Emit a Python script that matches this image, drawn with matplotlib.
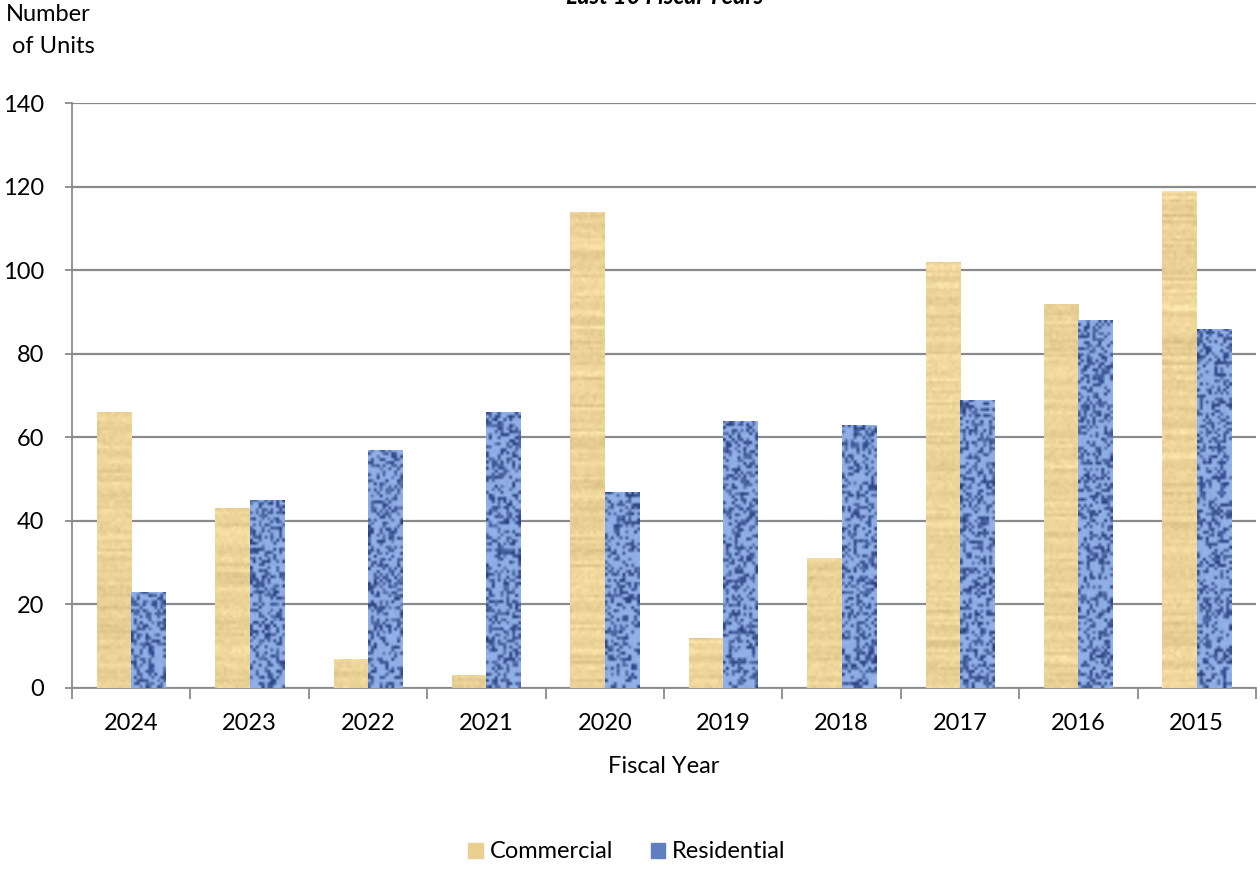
import matplotlib
matplotlib.use('Agg')
import matplotlib.pyplot as plt
from matplotlib.patches import Patch
import numpy as np

plt.rcParams['font.family'] = ['Lato', 'DejaVu Sans']
plt.rcParams['font.size'] = 17

years = ['2024', '2023', '2022', '2021', '2020', '2019', '2018', '2017', '2016', '2015']
commercial = [66, 43, 7, 3, 114, 12, 31, 102, 92, 119]
residential = [23, 45, 57, 66, 47, 64, 63, 69, 88, 86]

rng = np.random.default_rng(7)


def paper(rows, cols):
    # beige, slightly streaky fill
    base = np.array([236, 212, 152]) / 255.0
    streak = rng.normal(0, 0.025, (rows, 1))
    speck = rng.normal(0, 0.018, (rows, cols))
    img = base[None, None, :] + (streak + speck)[:, :, None]
    return np.clip(img, 0, 1)


def denim(rows, cols):
    # blue woven fill
    light = np.array([150, 180, 235]) / 255.0
    dark = np.array([35, 60, 125]) / 255.0
    t = rng.random((rows, cols))
    t = np.where(t > 0.4, 0.85 + 0.15 * t, t * 1.2)
    img = dark[None, None, :] + (light - dark)[None, None, :] * t[:, :, None]
    return np.clip(img, 0, 1)


fig = plt.figure(figsize=(12.6, 8.69), dpi=100)
ax = fig.add_axes([72 / 1260, 181 / 869, 1184 / 1260, 585 / 869])

x = np.arange(len(years))
w = 0.29
bars_c = ax.bar(x - w / 2, commercial, w, color='#ecd498', zorder=2)
bars_r = ax.bar(x + w / 2, residential, w, color='#5f7fc0', zorder=2)

for bars, maker in ((bars_c, paper), (bars_r, denim)):
    for b in bars:
        x0, h = b.get_x(), b.get_height()
        rows = max(int(h * 4.18 / 3), 1)
        im = ax.imshow(maker(rows, 12), extent=(x0, x0 + w, 0, h),
                       aspect='auto', interpolation='bilinear', zorder=3,
                       origin='lower')
        im.set_clip_path(b)

ax.set_xlim(-0.5, 9.5)
ax.set_ylim(0, 140)
ax.set_yticks(range(0, 141, 20))
ax.yaxis.grid(True, color='#8a8a8a', linewidth=1.6, zorder=0)
ax.set_axisbelow(True)

ax.set_xticks(x)
ax.set_xticklabels(years)
ax.set_xticks(np.arange(-0.5, 10, 1), minor=True)
ax.tick_params(axis='x', which='major', length=0, pad=18)
ax.tick_params(axis='x', which='minor', length=8, width=1.3, color='#8a8a8a')
ax.tick_params(axis='y', length=5, width=1.3, color='#8a8a8a', pad=15)

for side in ('top', 'right'):
    ax.spines[side].set_visible(False)
for side in ('left', 'bottom'):
    ax.spines[side].set_color('#8a8a8a')
    ax.spines[side].set_linewidth(1.3)

ax.set_xlabel('Fiscal Year', labelpad=16)
fig.text(6 / 1260, 1 - 4 / 869, 'Number', ha='left', va='top')
fig.text(6 / 1260, 1 - 36 / 869, ' of Units', ha='left', va='top')
fig.text(665 / 1260, 1 - 4 / 869, 'Last 10 Fiscal Years', ha='center',
         va='baseline', fontweight='bold', fontstyle='italic', fontsize=17)

handles = [Patch(color='#e9cf90'), Patch(color='#5f7fc0')]
fig.legend(handles, ['Commercial', 'Residential'], loc='center',
           bbox_to_anchor=(627 / 1260, 1 - 852 / 869), ncol=2, frameon=False,
           handlelength=0.6, handleheight=0.6, handletextpad=0.3,
           columnspacing=1.6)

plt.savefig('out.png', dpi=100)
